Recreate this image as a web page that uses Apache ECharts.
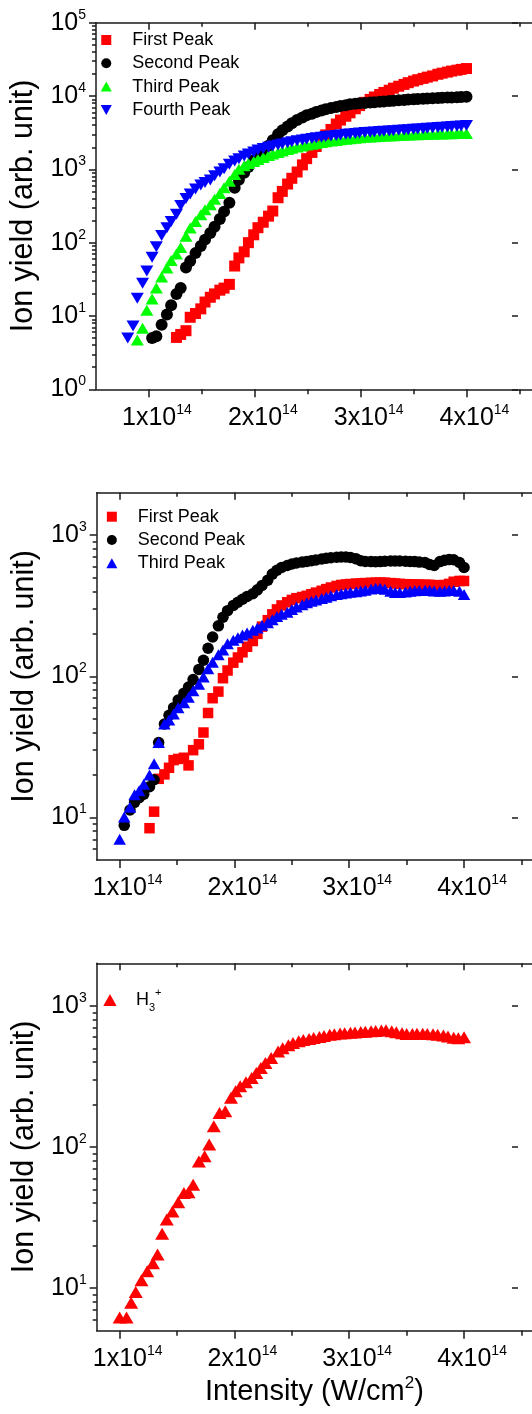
<!DOCTYPE html>
<html>
<head>
<meta charset="utf-8">
<script src="https://cdn.jsdelivr.net/npm/echarts@6/dist/echarts.min.js"></script>
<style>
html,body{margin:0;padding:0;background:#fff;overflow:hidden;}
#chart{width:532px;height:1414px;}
</style>
</head>
<body>
<div id="chart"></div>
<script>
// ---------- DATA (intensity in units of 10^14 W/cm^2) ----------
const intensity1 = [0.80,0.85,0.89,0.94,0.98,1.03,1.07,1.12,1.17,1.21,1.26,1.30,1.35,1.39,1.44,1.49,1.53,1.58,1.62,1.67,1.71,1.76,1.81,1.85,1.90,1.94,1.99,2.03,2.08,2.13,2.17,2.22,2.26,2.31,2.35,2.40,2.45,2.49,2.54,2.58,2.63,2.67,2.72,2.77,2.81,2.86,2.90,2.95,2.99,3.04,3.09,3.13,3.18,3.22,3.27,3.31,3.36,3.41,3.45,3.50,3.54,3.59,3.63,3.68,3.73,3.77,3.82,3.86,3.91,3.95,4.00];
const firstPeak1 = [null,null,null,null,null,null,null,null,null,null,
  5.1,5.6,6.3,9.6,10.8,12.5,15.5,18,20,22.5,24,27,48,62,75,100,128,160,190,230,270,410,500,630,755,920,1150,1400,1700,2050,2500,2950,3500,4150,4700,5300,5900,6700,7400,8200,9000,9700,10500,11200,12000,12800,13600,14400,15200,16000,16700,17400,18100,18800,19800,20500,21200,21900,22500,23100,23700];
const secondPeak1 = [null,null,null,null,null,
  5.0,5.3,7.6,10.5,14,20,24,46,56,72,90,110,135,165,210,265,350,560,720,900,1080,1330,1550,1800,2100,2500,3000,3400,3850,4250,4700,5100,5450,5750,6050,6350,6600,6850,7100,7300,7500,7700,7850,7950,8050,8150,8250,8350,8450,8550,8650,8750,8850,8950,9020,9090,9160,9230,9300,9370,9440,9510,9580,9650,9720,9800];
const thirdPeak1 = [null,null,
  4.7,6.8,12,17,24,34,45,57,70,86,122,158,195,240,280,330,390,470,560,690,850,1000,1120,1200,1280,1360,1450,1540,1620,1700,1780,1860,1940,2010,2080,2140,2200,2260,2320,2380,2430,2480,2530,2580,2620,2660,2700,2730,2760,2790,2810,2840,2860,2880,2900,2920,2940,2960,2970,2990,3000,3010,3030,3040,3050,3060,3070,3080,3090];
const fourthPeak1 = [5.0,7.3,17.5,28,41,63,88,125,160,195,245,320,400,460,540,610,660,716,820,920,1020,1170,1300,1400,1520,1620,1720,1830,1920,2000,2080,2150,2220,2300,2380,2450,2520,2580,2640,2700,2750,2800,2850,2900,2950,3000,3040,3090,3130,3170,3200,3240,3270,3300,3340,3370,3410,3440,3480,3510,3550,3590,3630,3670,3710,3750,3790,3830,3870,3910,3950];

const intensity2 = [1.00,1.04,1.09,1.13,1.17,1.21,1.26,1.30,1.34,1.39,1.43,1.47,1.51,1.56,1.60,1.64,1.69,1.73,1.77,1.81,1.86,1.90,1.94,1.99,2.03,2.07,2.11,2.16,2.20,2.24,2.29,2.33,2.37,2.41,2.46,2.50,2.54,2.59,2.63,2.67,2.71,2.76,2.80,2.84,2.89,2.93,2.97,3.01,3.06,3.10,3.14,3.19,3.23,3.27,3.31,3.36,3.40,3.44,3.49,3.53,3.57,3.61,3.66,3.70,3.74,3.79,3.83,3.87,3.91,3.96,4.00];
const firstPeak2 = [null,null,null,null,null,null,
  8.4,11.0,18.8,20.2,22.5,25.5,26.0,26.5,23.4,30,33,40,55,70,78,97,110,125,136,148,162,178,200,225,250,275,298,318,335,348,358,365,372,382,392,404,415,426,437,444,448,451,454,456,458,460,461,462,461,458,455,452,450,448,448,447,446,445,443,442,444,452,468,474,474];
const secondPeak2 = [null,
  8.8,11.3,12.8,13.8,14.6,16.5,18.5,34,46,53,60,68,76,84,95,112,130,158,190,228,262,292,318,335,352,368,385,410,440,480,530,565,590,610,625,635,645,652,660,668,678,686,692,698,700,700,696,680,660,652,650,648,650,654,656,656,656,654,652,650,645,640,620,610,650,665,672,670,640,590];
const thirdPeak2 = [7.0,10.1,11.8,14.5,15.5,17.2,20,24,34,46,49,54,60,65,71,79,88,99,113,126,142,154,170,180,188,196,203,212,220,230,240,252,265,275,285,298,310,322,332,340,348,356,364,372,380,385,390,394,398,402,408,415,420,420,414,400,392,392,396,400,404,406,408,406,402,400,402,405,406,400,380];

const intensity3 = [1.00,1.06,1.10,1.14,1.19,1.24,1.29,1.33,1.37,1.41,1.46,1.51,1.56,1.60,1.64,1.69,1.74,1.78,1.82,1.87,1.92,1.97,2.01,2.05,2.10,2.15,2.19,2.23,2.27,2.32,2.38,2.42,2.47,2.51,2.56,2.60,2.65,2.69,2.74,2.78,2.83,2.87,2.92,2.96,3.01,3.05,3.10,3.14,3.19,3.23,3.28,3.32,3.37,3.41,3.46,3.50,3.55,3.59,3.64,3.68,3.73,3.77,3.82,3.86,3.91,3.95,4.00];
const h3Yield = [6.2,6.2,7.9,9.4,11.4,13.2,15,17.3,24.3,30.6,35,40.6,47.3,47.8,54,79,86,104,140,174,179,223,248,269,287,308,334,363,394,427,475,500,525,545,562,572,582,592,602,612,624,630,636,640,644,648,652,656,660,664,668,670,660,650,640,632,632,634,634,632,630,625,615,605,595,590,600];

// tick values / labels
const xMajorTicks = [1, 2, 3, 4];
const xMinorTicks = [1.5, 2.5, 3.5, 4.5];
const xTickExponent = 14;
const yDecades1 = [1, 10, 100, 1000, 10000, 100000];
const yDecades23 = [10, 100, 1000];
const yTitle = 'Ion yield (arb. unit)';
const xTitle = 'Intensity (W/cm{sup|2})';
const seriesNames1 = ['First Peak', 'Second Peak', 'Third Peak', 'Fourth Peak'];
const seriesNames2 = ['First Peak', 'Second Peak', 'Third Peak'];
const seriesNames3 = ['H3+'];

// ---------- STYLE ----------
const FONT = '"Liberation Sans", Arial, sans-serif';
const AXIS_COLOR = '#1a1a1a';
const RED = '#ff0000', BLACK = '#000000', GREEN = '#00ff00', BLUE = '#0000ff';
const SQUARE = 'path://M0,0L10,0L10,10L0,10Z';
const UP = 'path://M5,0L10,9L0,9Z';
const DOWN = 'path://M0,0L10,0L5,9Z';

function pairs(xs, ys) {
  const out = [];
  for (let i = 0; i < xs.length; i++) if (ys[i] != null) out.push([xs[i], ys[i]]);
  return out;
}
function minorLogTicks(lo, hi) {
  const out = [];
  for (let d = 1; d < hi; d *= 10) {
    for (let m = 2; m <= 9; m++) {
      const v = m * d;
      if (v > lo && v < hi) out.push(v);
    }
  }
  return out;
}
const labelRich = {
  b: {fontSize: 25, fontFamily: FONT, color: '#000', lineHeight: 30},
  s: {fontSize: 14, fontFamily: FONT, color: '#000', lineHeight: 14, verticalAlign: 'top'},
  sp: {width: 16}
};

// grid right edges run past the picture edge (as in the cropped original)
const panels = [
  {grid: {left: 96, top: 22.7, width: 444, height: 366.6}, x: [0.5, 4.619], y: [1, 100000], decades: yDecades1},
  {grid: {left: 96.7, top: 492.7, width: 443.3, height: 367.3}, x: [0.8, 4.592], y: [5, 2000], decades: yDecades23},
  {grid: {left: 96.7, top: 963.3, width: 443.3, height: 367.4}, x: [0.8, 4.592], y: [5, 2000], decades: yDecades23, xName: true}
];

const grids = [], xAxes = [], yAxes = [], mainX = [], mainY = [];
panels.forEach((p, gi) => {
  grids.push(Object.assign({containLabel: false}, p.grid));
  const tickLine = {color: AXIS_COLOR, width: 1.5};
  const xBase = {type: 'value', gridIndex: gi, min: p.x[0], max: p.x[1], splitLine: {show: false}};
  mainX.push(xAxes.length);
  xAxes.push(Object.assign({}, xBase, {
    position: 'bottom',
    axisLine: {show: true, onZero: false, lineStyle: {color: AXIS_COLOR, width: 1.5}},
    axisTick: {show: true, inside: false, length: 8, customValues: xMajorTicks, lineStyle: tickLine},
    axisLabel: {show: true, customValues: xMajorTicks, margin: 13.5, rich: labelRich,
      formatter: v => '{sp|}{b|' + v + 'x10}{s|' + xTickExponent + '}'},
    name: p.xName ? xTitle : '',
    nameLocation: 'middle', nameGap: 44,
    nameTextStyle: {fontSize: 29, fontFamily: FONT, color: '#000', lineHeight: 34,
      rich: {sup: {fontSize: 17, fontFamily: FONT, color: '#000', lineHeight: 17, verticalAlign: 'top'}}}
  }));
  xAxes.push(Object.assign({}, xBase, {
    position: 'bottom', axisLine: {show: false, onZero: false},
    axisTick: {show: true, inside: false, length: 5, customValues: xMinorTicks, lineStyle: tickLine},
    axisLabel: {show: false}
  }));
  xAxes.push(Object.assign({}, xBase, {
    position: 'top',
    axisLine: {show: true, onZero: false, lineStyle: {color: AXIS_COLOR, width: 1.5}},
    axisTick: {show: true, inside: true, length: 7, customValues: xMajorTicks, lineStyle: tickLine},
    axisLabel: {show: false}
  }));
  xAxes.push(Object.assign({}, xBase, {
    position: 'top', axisLine: {show: false, onZero: false},
    axisTick: {show: true, inside: true, length: 4, customValues: xMinorTicks, lineStyle: tickLine},
    axisLabel: {show: false}
  }));

  const yBase = {type: 'log', logBase: 10, gridIndex: gi, min: p.y[0], max: p.y[1], splitLine: {show: false}};
  const yMinor = minorLogTicks(p.y[0], p.y[1]);
  mainY.push(yAxes.length);
  yAxes.push(Object.assign({}, yBase, {
    position: 'left',
    axisLine: {show: true, onZero: false, lineStyle: {color: AXIS_COLOR, width: 1.5}},
    axisTick: {show: true, inside: false, length: 7, customValues: p.decades, lineStyle: tickLine},
    axisLabel: {show: true, customValues: p.decades, margin: 10, rich: labelRich,
      formatter: v => '{b|10}{s|' + Math.round(Math.log10(v)) + '}'},
    name: yTitle, nameLocation: 'middle', nameGap: 50, nameRotate: 90,
    nameTextStyle: {fontSize: 30.5, fontFamily: FONT, color: '#000'}
  }));
  yAxes.push(Object.assign({}, yBase, {
    position: 'left', axisLine: {show: false, onZero: false},
    axisTick: {show: true, inside: false, length: 4, customValues: yMinor, lineStyle: tickLine},
    axisLabel: {show: false}
  }));
  // short marks near the right picture edge at the decades
  yAxes.push(Object.assign({}, yBase, {
    position: 'right', offset: -14,
    axisLine: {show: false, onZero: false},
    axisTick: {show: true, inside: true, length: 6, customValues: p.decades, lineStyle: tickLine},
    axisLabel: {show: false}
  }));
});

function sc(name, gi, xs, ys, symbol, size, color, rotate) {
  return {
    type: 'scatter', name: name, xAxisIndex: mainX[gi], yAxisIndex: mainY[gi],
    data: pairs(xs, ys), symbol: symbol, symbolSize: size, symbolRotate: rotate || 0,
    itemStyle: {color: color, opacity: 1}, silent: true
  };
}
const Z = '\u200b';
const series = [
  sc(seriesNames1[0], 0, intensity1, firstPeak1, 'rect', 11, RED),
  sc(seriesNames1[1], 0, intensity1, secondPeak1, 'circle', 12, BLACK),
  sc(seriesNames1[2], 0, intensity1, thirdPeak1, 'triangle', [13, 11], GREEN),
  sc(seriesNames1[3], 0, intensity1, fourthPeak1, 'triangle', [13, 11], BLUE, 180),
  sc(seriesNames2[0] + Z, 1, intensity2, firstPeak2, 'rect', 10.5, RED),
  sc(seriesNames2[1] + Z, 1, intensity2, secondPeak2, 'circle', 11.5, BLACK),
  sc(seriesNames2[2] + Z, 1, intensity2, thirdPeak2, 'triangle', [12.5, 11], BLUE),
  sc(seriesNames3[0], 2, intensity3, h3Yield, 'triangle', [14, 12], RED)
];

const legendText = {fontSize: 18, fontFamily: FONT, color: '#000', lineHeight: 18};
const legends = [
  {orient: 'vertical', left: 100.7, top: 31, padding: 0, itemWidth: 42, itemHeight: 10, itemGap: 5.3,
   selectedMode: false, textStyle: legendText,
   data: [{name: seriesNames1[0], icon: SQUARE}, {name: seriesNames1[1], icon: 'circle'},
          {name: seriesNames1[2], icon: UP}, {name: seriesNames1[3], icon: DOWN}]},
  {orient: 'vertical', left: 106.3, top: 507.7, padding: 0, itemWidth: 42, itemHeight: 10, itemGap: 5.3,
   selectedMode: false, textStyle: legendText, formatter: n => n.replace(/\u200b/g, ''),
   data: [{name: seriesNames2[0] + Z, icon: SQUARE}, {name: seriesNames2[1] + Z, icon: 'circle'},
          {name: seriesNames2[2] + Z, icon: UP}]},
  {orient: 'vertical', left: 103.3, top: 987, padding: 0, itemWidth: 42, itemHeight: 12,
   selectedMode: false,
   textStyle: {fontSize: 18, fontFamily: FONT, color: '#000', lineHeight: 26,
     rich: {b: {fontSize: 18, fontFamily: FONT, color: '#000', lineHeight: 26},
            sub: {fontSize: 11, fontFamily: FONT, color: '#000', lineHeight: 11, verticalAlign: 'bottom'},
            sup: {fontSize: 11, fontFamily: FONT, color: '#000', lineHeight: 15, verticalAlign: 'top'}}},
   formatter: () => '{b|H}{sub|3}{sup|+}',
   data: [{name: seriesNames3[0], icon: UP}]}
];

const chart = echarts.init(document.getElementById('chart'), null, {renderer: 'canvas'});
chart.setOption({
  animation: false,
  backgroundColor: '#ffffff',
  grid: grids,
  xAxis: xAxes,
  yAxis: yAxes,
  legend: legends,
  series: series
});
</script>
</body>
</html>
